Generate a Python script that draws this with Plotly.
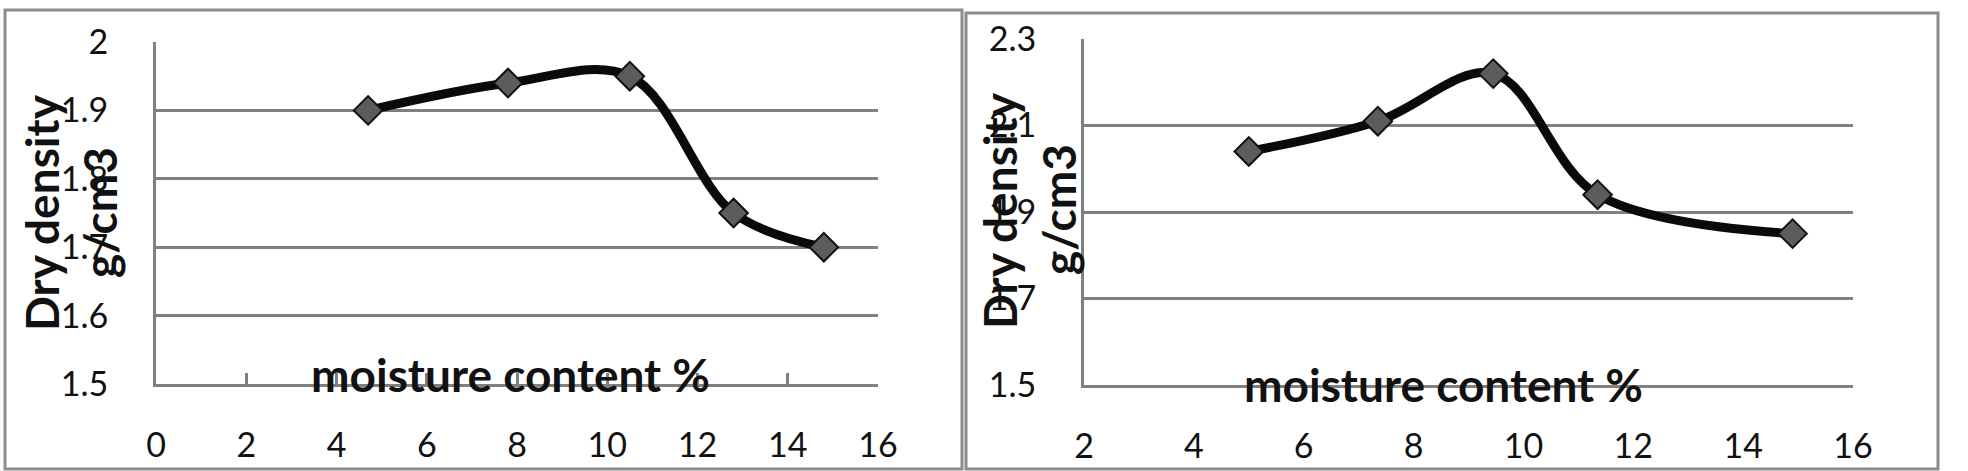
import plotly.graph_objects as go

W, H = 1968, 471

# ---- data ----
moisture_a = [4.7, 7.8, 10.5, 12.8, 14.8]
density_a = [1.90, 1.94, 1.95, 1.75, 1.70]
moisture_b = [5.0, 7.35, 9.45, 11.35, 14.9]
density_b = [2.04, 2.11, 2.22, 1.94, 1.85]

ytick_vals_a = [1.5, 1.6, 1.7, 1.8, 1.9, 2.0]
ytick_text_a = ["1.5", "1.6", "1.7", "1.8", "1.9", "2"]
ytick_vals_b = [1.5, 1.7, 1.9, 2.1, 2.3]
ytick_text_b = ["1.5", "1.7", "1.9", "2.1", "2.3"]
xtick_vals_a = [0, 2, 4, 6, 8, 10, 12, 14, 16]
xtick_vals_b = [2, 4, 6, 8, 10, 12, 14, 16]

x_title = "moisture content %"
y_title_line1 = "Dry density"
y_title_line2 = "g/cm3"

def px(x):
    return x / W

def py(y):
    return 1 - y / H

GRID = "#808080"
TICKFONT = dict(family="Lato, Open Sans, sans-serif", size=34, color="#111111")
TITLEFONT = dict(family="Lato, Open Sans, sans-serif", size=46, color="#111111", weight=700)

fig = go.Figure()

marker = dict(symbol="diamond", size=22, color="#5c5c5c", line=dict(color="#111111", width=2))
line = dict(color="#0a0a0a", width=9, shape="spline", smoothing=1)

fig.add_trace(go.Scatter(x=moisture_a, y=density_a, mode="lines+markers",
                         line=line, marker=marker, xaxis="x", yaxis="y", showlegend=False))
fig.add_trace(go.Scatter(x=moisture_b, y=density_b, mode="lines+markers",
                         line=line, marker=marker, xaxis="x2", yaxis="y2", showlegend=False))

common_x = dict(showgrid=False, zeroline=False, showline=True, linecolor=GRID, linewidth=3,
                tickfont=TICKFONT, ticklabelstandoff=29, automargin=False)
common_y = dict(showgrid=True, gridcolor=GRID, gridwidth=3, zeroline=False, showline=True,
                linecolor=GRID, linewidth=3, tickfont=TICKFONT, ticks="", ticklabelstandoff=38,
                automargin=False)

fig.update_layout(
    width=W, height=H,
    margin=dict(l=0, r=0, t=0, b=0, autoexpand=False),
    paper_bgcolor="white", plot_bgcolor="white",
    xaxis=dict(domain=[px(156), px(878)], range=[0, 16], tickvals=xtick_vals_a,
               ticks="inside", ticklen=11, tickwidth=3, tickcolor=GRID,
               anchor="y", **common_x),
    yaxis=dict(domain=[py(384), py(42)], range=[1.5, 2.0], tickvals=ytick_vals_a,
               ticktext=ytick_text_a, anchor="x", **common_y),
    xaxis2=dict(domain=[px(1084), px(1853)], range=[2, 16], tickvals=xtick_vals_b,
                ticks="", anchor="y2", **common_x),
    yaxis2=dict(domain=[py(385), py(39)], range=[1.5, 2.3], tickvals=ytick_vals_b,
                ticktext=ytick_text_b, anchor="x2", **common_y),
)

# panel borders
fig.add_shape(type="rect", xref="paper", yref="paper", x0=px(5), x1=px(962), y0=py(469), y1=py(10),
              line=dict(color="#8c8c8c", width=3), layer="below")
fig.add_shape(type="rect", xref="paper", yref="paper", x0=px(966), x1=px(1938), y0=py(469), y1=py(13),
              line=dict(color="#8c8c8c", width=3), layer="below")

# axis titles as annotations (positioned over the plot like the reference)
fig.add_annotation(text=x_title, xref="paper", yref="paper", x=px(510), y=py(374),
                   xanchor="center", yanchor="middle", showarrow=False, font=TITLEFONT)
fig.add_annotation(text=x_title, xref="paper", yref="paper", x=px(1443), y=py(384),
                   xanchor="center", yanchor="middle", showarrow=False, font=TITLEFONT)
for cx, cy, cx2 in [(41, 213, 99), (999, 210, 1058)]:
    fig.add_annotation(text=y_title_line1, xref="paper", yref="paper", x=px(cx), y=py(cy),
                       xanchor="center", yanchor="middle", textangle=-90, showarrow=False,
                       font=TITLEFONT)
    fig.add_annotation(text=y_title_line2, xref="paper", yref="paper", x=px(cx2), y=py(cy),
                       xanchor="center", yanchor="middle", textangle=-90, showarrow=False,
                       font=TITLEFONT)

fig.write_html("out.html", config={"displayModeBar": False},
               post_script="document.body.style.margin='0px';")
